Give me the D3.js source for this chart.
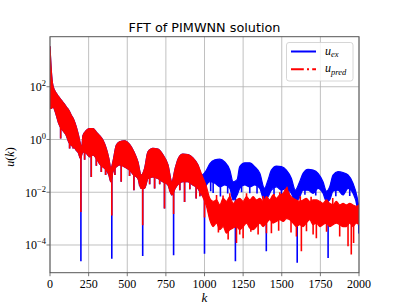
<!DOCTYPE html>
<html lang="en">
<head>
<meta charset="UTF-8" />
<title>FFT of PIMWNN solution</title>
<script src="https://d3js.org/d3.v7.min.js"></script>
<style>
  body { margin: 0; background: #fff; }
</style>
</head>
<body>
<div class="chart"></div>
<script>
// |u_ex(k)| : upper / lower envelope of the dense spectrum
const exK = [0, 9, 19, 41, 56, 73, 91, 106, 121, 138, 155, 170, 185, 196,
  205, 213, 235, 256, 278, 300, 321, 343, 364, 381, 394,
  407, 429, 450, 483, 515, 543, 569, 590,
  612, 634, 666, 698, 731, 763, 789,
  810, 832, 860, 892, 925, 957, 983,
  1013, 1034, 1067, 1099, 1131, 1164, 1185,
  1211, 1228, 1261, 1293, 1325, 1358, 1388,
  1412, 1433, 1466, 1498, 1530, 1562, 1588,
  1612, 1638, 1670, 1703, 1735, 1767, 1789,
  1810, 1832, 1864, 1896, 1929, 1961, 1987, 2000]
const exHi = [3.3e3, 3.7e2, 1.1e2, 56, 42, 31, 23, 17, 13, 8.3, 5.4, 3.0, 1.4, 0.71,
  0.46, 1.4, 2.2, 2.6, 2.6, 1.9, 1.4, 0.93, 0.46, 0.19, 0.079,
  0.14, 0.6, 0.81, 0.89, 0.65, 0.34, 0.14, 0.045,
  0.079, 0.34, 0.46, 0.43, 0.26, 0.11, 0.025,
  0.079, 0.2, 0.28, 0.27, 0.2, 0.11, 0.045,
  0.069, 0.12, 0.17, 0.18, 0.14, 0.069, 0.025,
  0.03, 0.093, 0.13, 0.13, 0.093, 0.052, 0.014,
  0.03, 0.069, 0.098, 0.093, 0.069, 0.034, 0.012,
  0.022, 0.052, 0.074, 0.069, 0.052, 0.025, 0.011,
  0.016, 0.045, 0.06, 0.056, 0.045, 0.022, 0.0069, 0.0025]
const exLo = [15, 15, 17, 8.3, 4.1, 2.6, 1.9, 1.4, 0.81, 0.6, 0.52, 0.39, 0.3, 0.19,
  0.26, 0.34, 0.3, 0.22, 0.26, 0.19, 0.12, 0.091, 0.069, 0.045, 0.025,
  0.059, 0.091, 0.11, 0.091, 0.069, 0.045, 0.033, 0.014,
  0.014, 0.033, 0.038, 0.033, 0.025, 0.019, 0.0078,
  0.014, 0.021, 0.025, 0.025, 0.019, 0.014, 0.0078,
  0.019, 0.025, 0.022, 0.016, 0.019, 0.014, 0.0051,
  0.0079, 0.014, 0.019, 0.016, 0.019, 0.014, 0.0045,
  0.0069, 0.012, 0.016, 0.012, 0.014, 0.0091, 0.0045,
  0.0059, 0.012, 0.012, 0.0091, 0.014, 0.0091, 0.0045,
  0.0051, 0.011, 0.012, 0.0079, 0.014, 0.0091, 0.0029, 0.00028]
// deep notches of u_ex
const exDips = [[200, 2.4e-5], [400, 3.0e-5], [600, 3.8e-5], [800, 4.1e-5], [1000, 4.7e-5],
  [1200, 2.4e-5], [1400, 5.8e-5], [1600, 2.1e-5], [1800, 3.2e-5], [2000, 2.8e-4]]
// smaller notches inside the lobes (shared by both curves below k = 1000)
const lobeSpikes = [[69, 1.1], [127, 0.46], [150, 0.46], [224, 0.17], [267, 0.038], [332, 0.059],
  [461, 0.025], [515, 0.041], [543, 0.012], [677, 0.014], [741, 0.0024], [871, 0.0043], [946, 0.0058],
  [300, 0.1], [360, 0.045], [420, 0.045], [580, 0.018], [645, 0.02], [710, 0.02], [775, 0.011],
  [840, 0.012], [905, 0.013], [970, 0.007]]
const exTailSpikes = [[1056, 0.0093], [1103, 0.0069], [1293, 0.0091], [1498, 0.0079],
  [1040, 0.011], [1150, 0.009], [1240, 0.01], [1340, 0.009], [1450, 0.008], [1545, 0.008],
  [1650, 0.008], [1720, 0.0075], [1850, 0.007], [1940, 0.0072]]

// |u_pred(k)| : follows u_ex up to k = 1000, then a noisy floor
const predSplit = 1000
const predK = [1013, 1034, 1056, 1078, 1099, 1121, 1142, 1164, 1185, 1207, 1228, 1250, 1272, 1293,
  1315, 1336, 1358, 1379, 1401, 1422, 1444, 1465, 1487, 1509, 1530, 1552, 1573, 1595, 1616,
  1638, 1659, 1681, 1703, 1724, 1746, 1767, 1789, 1810, 1832, 1853, 1875, 1897, 1918, 1940,
  1961, 1983, 2000]
const predHi = [0.016, 0.0059, 0.0045, 0.0051, 0.0033, 0.0059, 0.0045, 0.0069, 0.0038, 0.0051,
  0.0059, 0.0045, 0.0069, 0.0051, 0.0069, 0.0051, 0.0059, 0.0045, 0.0069, 0.0051, 0.0079,
  0.0059, 0.0079, 0.0091, 0.014, 0.0079, 0.0059, 0.0051, 0.0045, 0.0051, 0.0059, 0.0045,
  0.0051, 0.0051, 0.0045, 0.0038, 0.0051, 0.0038, 0.0033, 0.0045, 0.0033, 0.0038, 0.0033,
  0.0038, 0.0033, 0.0029, 0.0033]
const predLo = [0.0029, 0.00091, 0.0005, 0.00068, 0.00038, 0.0005, 0.00028, 0.00038, 0.00044,
  0.0005, 0.00038, 0.0005, 0.00068, 0.00044, 0.00038, 0.0005, 0.00068, 0.0005, 0.00068,
  0.00091, 0.00068, 0.00078, 0.00091, 0.00078, 0.001, 0.00091, 0.00068, 0.0005, 0.00059,
  0.0005, 0.00068, 0.00091, 0.00059, 0.00068, 0.0005, 0.00059, 0.00068, 0.0005, 0.00059,
  0.00068, 0.00059, 0.0005, 0.0005, 0.00068, 0.0005, 0.00068, 0.00059]
const predDips = [[200, 1.8e-3], [400, 1.3e-3], [600, 5.6e-4], [800, 1.5e-3], [1000, 1.1e-3]]
const predSpikes = [[1153, 1.6e-4], [1207, 1.2e-4], [1228, 2.5e-4], [1250, 1.8e-4], [1347, 2.5e-4],
  [1401, 2.8e-4], [1433, 2.8e-4], [1595, 2.1e-4], [1627, 5.8e-5], [1703, 2.5e-4], [1724, 1.8e-4],
  [1875, 2.1e-4], [1929, 8.9e-5], [1950, 4.4e-5], [1965, 1.2e-4],
  [1090, 3.0e-4], [1300, 3.2e-4], [1480, 3.5e-4], [1560, 3.0e-4], [1660, 3.3e-4], [1790, 3.2e-4],
  [1078, 0.0079], [1164, 0.0091], [1272, 0.0091], [1487, 0.01], [1534, 0.016],
  [1120, 0.0075], [1380, 0.0072], [1450, 0.0085], [1620, 0.007], [1690, 0.0068], [1830, 0.006]]

const xTicks = [0, 250, 500, 750, 1000, 1250, 1500, 1750, 2000]
const yTicks = [1e2, 1e0, 1e-2, 1e-4]
const yExp = ['2', '0', '\u22122', '\u22124']

const width = 399
const height = 307
const pLeft = 50, pRight = 359, pTop = 36.7, pBottom = 272.7
const blue = '#0000ff', red = '#ff0000'

const svg = d3.select('.chart').append('svg')
  .attr('width', width).attr('height', height)
  .style('background', '#fff')

const x = d3.scaleLinear().domain([0, 2000]).range([pLeft, pRight])
const y = d3.scaleLog().domain([8.9e-6, 7.9e3]).range([pBottom, pTop])

// build band rows
const exBand = exK.map((k, i) => ({ k: k, hi: exHi[i], lo: exLo[i] }))
const predBand = exBand.filter(d => d.k < predSplit)
  .concat(predK.map((k, i) => ({ k: k, hi: predHi[i], lo: predLo[i] })))

// geometric middle of a band at k, used as the root of a notch line
function bandMid(band, k) {
  const i = d3.bisector(d => d.k).left(band, k)
  const a = band[Math.max(0, i - 1)], b = band[Math.min(band.length - 1, i)]
  const t = b.k === a.k ? 0 : (k - a.k) / (b.k - a.k)
  const la = Math.log10(Math.sqrt(a.hi * a.lo)), lb = Math.log10(Math.sqrt(b.hi * b.lo))
  return Math.pow(10, la + (lb - la) * t)
}

// grid
const grid = svg.append('g').attr('stroke', '#b0b0b0').attr('stroke-width', 0.8)
grid.selectAll('.gx').data(xTicks).enter().append('line')
  .attr('x1', d => x(d)).attr('x2', d => x(d)).attr('y1', pTop).attr('y2', pBottom)
grid.selectAll('.gy').data(yTicks).enter().append('line')
  .attr('x1', pLeft).attr('x2', pRight).attr('y1', d => y(d)).attr('y2', d => y(d))

svg.append('clipPath').attr('id', 'plot')
  .append('rect').attr('x', pLeft).attr('y', pTop).attr('width', pRight - pLeft).attr('height', pBottom - pTop)
const plot = svg.append('g').attr('clip-path', 'url(#plot)')

const area = d3.area().curve(d3.curveMonotoneX)
  .x(d => x(d.k)).y0(d => y(d.lo)).y1(d => y(d.hi))

function drawSeries(band, notches, color) {
  plot.append('path').datum(band)
    .attr('d', area).attr('fill', color)
    .attr('stroke', color).attr('stroke-width', 1.2).attr('stroke-linejoin', 'round')
  plot.append('g').selectAll('line').data(notches).enter().append('line')
    .attr('x1', d => x(d[0])).attr('x2', d => x(d[0]))
    .attr('y1', d => y(bandMid(band, d[0]))).attr('y2', d => y(d[1]))
    .attr('stroke', color).attr('stroke-width', 1.6)
}

drawSeries(exBand, exDips.concat(lobeSpikes, exTailSpikes), blue)
drawSeries(predBand, predDips.concat(lobeSpikes, predSpikes), red)

// frame
svg.append('rect').attr('x', pLeft).attr('y', pTop)
  .attr('width', pRight - pLeft).attr('height', pBottom - pTop)
  .attr('fill', 'none').attr('stroke', '#555').attr('stroke-width', 1)

const serif = '"Liberation Serif", "DejaVu Serif", serif'

// x ticks
const xt = svg.append('g')
xt.selectAll('line').data(xTicks).enter().append('line')
  .attr('x1', d => x(d)).attr('x2', d => x(d)).attr('y1', pBottom).attr('y2', pBottom + 3.5)
  .attr('stroke', '#555').attr('stroke-width', 0.8)
xt.selectAll('text').data(xTicks).enter().append('text')
  .attr('x', d => x(d)).attr('y', 288).attr('text-anchor', 'middle')
  .attr('font-family', serif).attr('font-size', 12).text(d => d)

// y ticks
const yt = svg.append('g')
yt.selectAll('line').data(yTicks).enter().append('line')
  .attr('x1', pLeft - 3.5).attr('x2', pLeft).attr('y1', d => y(d)).attr('y2', d => y(d))
  .attr('stroke', '#555').attr('stroke-width', 0.8)
const ylab = yt.selectAll('text').data(yTicks).enter().append('text')
  .attr('x', 46).attr('y', d => y(d) + 4.5).attr('text-anchor', 'end')
  .attr('font-family', serif).attr('font-size', 12)
ylab.append('tspan').text('10')
ylab.append('tspan').attr('dy', -5).attr('font-size', 8.5).text((d, i) => yExp[i])

// title and axis labels
svg.append('text').attr('x', (pLeft + pRight) / 2).attr('y', 31.5).attr('text-anchor', 'middle')
  .attr('font-family', '"DejaVu Sans", sans-serif').attr('font-size', 12.8)
  .text('FFT of PIMWNN solution')
svg.append('text').attr('x', x(1000)).attr('y', 302).attr('text-anchor', 'middle')
  .attr('font-family', serif).attr('font-style', 'italic').attr('font-size', 13).text('k')
svg.append('text').attr('transform', 'translate(14,157) rotate(-90)').attr('text-anchor', 'middle')
  .attr('font-family', serif).attr('font-size', 12)
  .call(t => {
    t.append('tspan').attr('font-style', 'italic').text('u')
    t.append('tspan').text('(')
    t.append('tspan').attr('font-style', 'italic').text('k')
    t.append('tspan').text(')')
  })

// legend
const legend = svg.append('g')
legend.append('rect').attr('x', 286.5).attr('y', 42.5).attr('width', 66.5).attr('height', 38.5)
  .attr('rx', 2.5).attr('fill', '#fff').attr('fill-opacity', 0.85)
  .attr('stroke', '#cccccc').attr('stroke-width', 0.8)
const items = [
  { color: blue, dash: null, name: 'ex', yy: 51.5 },
  { color: red, dash: '12.8,3.2,2,3.2', name: 'pred', yy: 69.3 }
]
items.forEach(it => {
  legend.append('line').attr('x1', 291).attr('x2', 316).attr('y1', it.yy).attr('y2', it.yy)
    .attr('stroke', it.color).attr('stroke-width', 2)
    .attr('stroke-dasharray', it.dash)
  const t = legend.append('text').attr('x', 325).attr('y', it.yy + 3)
    .attr('font-family', serif).attr('font-style', 'italic').attr('font-size', 12)
  t.append('tspan').text('u')
  t.append('tspan').attr('dy', 2.5).attr('font-size', 8.5).text(it.name)
})
</script>
</body>
</html>
